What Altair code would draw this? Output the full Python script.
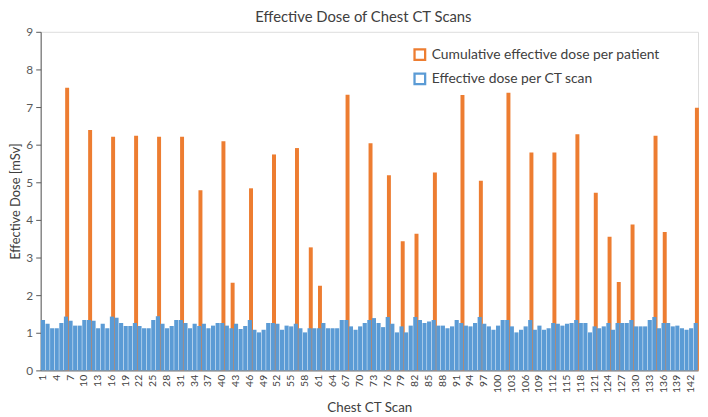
import altair as alt
import pandas as pd

# Effective dose per CT scan (scan 1..143)
effective = [
    1.34, 1.24, 1.12, 1.12, 1.26, 1.43, 1.32, 1.19, 1.19, 1.34,
    1.34, 1.32, 1.12, 1.24, 1.12, 1.43, 1.40, 1.26, 1.18, 1.18,
    1.26, 1.18, 1.12, 1.12, 1.34, 1.44, 1.24, 1.12, 1.18, 1.34,
    1.34, 1.26, 1.12, 1.24, 1.18, 1.24, 1.12, 1.19, 1.26, 1.26,
    1.19, 1.12, 1.24, 1.10, 1.18, 1.34, 1.08, 1.01, 1.08, 1.26,
    1.26, 1.24, 1.08, 1.19, 1.17, 1.24, 1.12, 1.01, 1.12, 1.12,
    1.12, 1.26, 1.12, 1.12, 1.12, 1.34, 1.34, 1.17, 1.08, 1.17,
    1.26, 1.34, 1.39, 1.26, 1.15, 1.42, 1.24, 1.01, 1.17, 1.01,
    1.19, 1.42, 1.34, 1.26, 1.30, 1.34, 1.19, 1.19, 1.12, 1.17,
    1.34, 1.26, 1.19, 1.17, 1.26, 1.42, 1.24, 1.17, 1.08, 1.19,
    1.34, 1.34, 1.17, 1.01, 1.08, 1.17, 1.34, 1.08, 1.19, 1.08,
    1.12, 1.26, 1.24, 1.19, 1.24, 1.26, 1.34, 1.26, 1.26, 1.01,
    1.17, 1.12, 1.17, 1.26, 1.08, 1.26, 1.26, 1.26, 1.34, 1.17,
    1.17, 1.17, 1.34, 1.42, 1.12, 1.26, 1.26, 1.17, 1.19, 1.12,
    1.08, 1.12, 1.26,
]
scans = list(range(1, len(effective) + 1))

# Cumulative effective dose per patient (at the patient's last scan)
cum_scans = [6, 11, 16, 21, 26, 31, 35, 40, 42, 46, 51, 56, 59, 61, 67, 72, 76,
             79, 82, 86, 92, 96, 102, 107, 112, 117, 121, 124, 126, 129, 134, 136, 143]
cum_values = [7.51, 6.39, 6.21, 6.24, 6.21, 6.21, 4.79, 6.09, 2.33, 4.84, 5.74, 5.91,
              3.27, 2.25, 7.33, 6.04, 5.19, 3.43, 3.63, 5.26, 7.32, 5.04, 7.38, 5.79,
              5.79, 6.28, 4.72, 3.55, 2.35, 3.88, 6.24, 3.68, 6.98]

S_CUM = "Cumulative effective dose per patient"
S_EFF = "Effective dose per CT scan"
series_names = [S_CUM, S_EFF]
ORANGE = "#ED7D31"
BLUE = "#5B9BD5"

df_eff = pd.DataFrame({"scan": scans, "dose": effective, "series": S_EFF})
df_cum = pd.DataFrame({"scan": cum_scans, "dose": cum_values, "series": S_CUM})
df_all = pd.concat([df_cum, df_eff], ignore_index=True)

FONT = "Lato"

stroke = alt.Stroke(
    "series:N",
    scale=alt.Scale(domain=series_names, range=[ORANGE, BLUE]),
    legend=alt.Legend(
        title=None, orient="none", legendX=376, legendY=16,
        symbolType="square", symbolSize=115, symbolFillColor="white",
        symbolStrokeWidth=2.3, labelFontSize=14, labelFont=FONT,
        labelColor="#404040", rowPadding=4.5, padding=0, labelOffset=5,
        labelLimit=400,
    ),
)

x = alt.X(
    "scan:O",
    scale=alt.Scale(domain=scans, paddingInner=0.1, paddingOuter=0.05),
    axis=alt.Axis(
        title="Chest CT Scan", labelAngle=-90, ticks=False, labelPadding=4,
        labelFontSize=10.5, labelFont=FONT, labelColor="#404040",
        labelExpr="(datum.value - 1) % 3 == 0 ? datum.label : ''",
        labelOverlap=False, domainColor="#595959",
        titleFont=FONT, titleFontSize=13.5, titleFontWeight="normal",
        titleColor="#404040", titleX=332, titleY=38, titleBaseline="middle",
    ),
)

y = alt.Y(
    "dose:Q",
    scale=alt.Scale(domain=[0, 9]),
    axis=alt.Axis(
        title="Effective Dose [mSv]", values=list(range(0, 10)), grid=False,
        tickSize=5, tickColor="#595959", domainColor="#595959",
        labelFontSize=12, labelFont=FONT, labelColor="#595959", labelPadding=3,
        titleFont=FONT, titleFontSize=13, titleFontWeight="normal",
        titleColor="#404040", titleX=-25, titleY=171, titleBaseline="middle",
    ),
)

cum = alt.Chart(df_cum).mark_bar(size=4, xOffset=1.2, color=ORANGE).encode(x=x, y=y)
eff = alt.Chart(df_eff).mark_bar(color=BLUE).encode(x=x, y=y)
leg = alt.Chart(df_all).mark_point(shape="square", filled=False, strokeWidth=2.3,
                                   opacity=0).encode(x=x, y=y, stroke=stroke)

chart = (
    alt.layer(cum, eff, leg)
    .properties(
        width=664, height=342,
        title=alt.TitleParams(
            "Effective Dose of Chest CT Scans", font=FONT, fontSize=15,
            fontWeight="normal", color="#404040", offset=1, dx=-6,
        ),
        autosize=alt.AutoSizeParams(type="none"),
        padding={"left": 33, "top": 22, "right": 2, "bottom": 42},
    )
    .configure_view(stroke="#d9d9d9", strokeWidth=1)
    .configure(background="white")
)

chart.save("out.html", embed_options={"renderer": "svg", "actions": False})
